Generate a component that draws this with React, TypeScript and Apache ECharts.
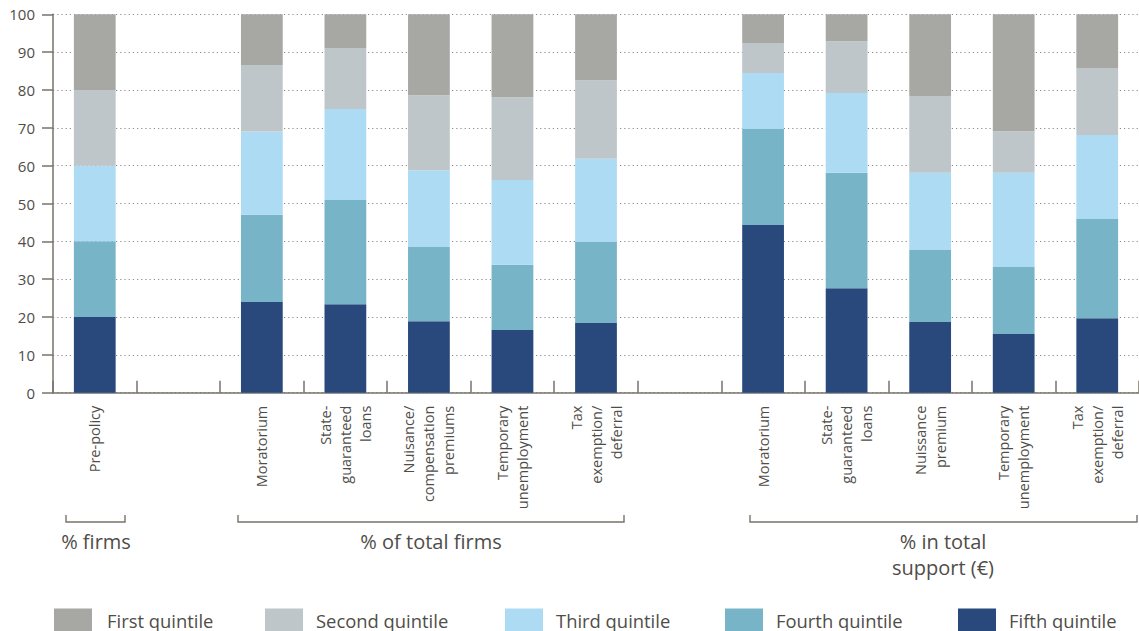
import React, { useEffect, useRef } from "react";
import * as echarts from "echarts";

// Category slots (empty strings are spacer slots between groups)
const categories = [
  "Pre-policy",
  "",
  "Moratorium",
  "State-\nguaranteed\nloans",
  "Nuisance/\ncompensation\npremiums",
  "Temporary\nunemployment",
  "Tax\nexemption/\ndeferral",
  "",
  "Moratorium",
  "State-\nguaranteed\nloans",
  "Nuissance\npremium",
  "Temporary\nunemployment",
  "Tax\nexemption/\ndeferral",
];

// Shares (%) by quintile, stacked from the bottom (fifth) to the top (first)
const fifthQuintile = [20, null, 24, 23.4, 18.9, 16.6, 18.4, null, 44.3, 27.6, 18.7, 15.5, 19.7];
const fourthQuintile = [20, null, 23, 27.5, 19.6, 17.2, 21.4, null, 25.4, 30.5, 19.0, 17.7, 26.2];
const thirdQuintile = [20, null, 22, 24.1, 20.3, 22.4, 22.0, null, 14.8, 21.1, 20.4, 24.9, 22.2];
const secondQuintile = [20, null, 17.6, 16.1, 19.8, 21.9, 20.8, null, 7.9, 13.7, 20.3, 11.0, 17.7];
const firstQuintile = [20, null, 13.4, 8.9, 21.4, 21.9, 17.4, null, 7.6, 7.1, 21.6, 30.9, 14.2];

const seriesNames = ["First quintile", "Second quintile", "Third quintile", "Fourth quintile", "Fifth quintile"];
const seriesColors = ["#a7a8a3", "#bfc6c9", "#addbf4", "#77b4c7", "#29497d"];
const yTicks = { min: 0, max: 100, interval: 10 };

const FONT = "'Open Sans', 'DejaVu Sans', sans-serif";
const TEXT = "#4f4d48";
const AXIS = "#77736a";

// Legend swatch and label positions along the bottom row
const legendSwatchX = [54, 265, 505, 725, 958];
const legendTextX = [107, 316, 556, 776, 1009];

export default function App() {
  const ref = useRef<HTMLDivElement>(null);

  useEffect(() => {
    if (!ref.current) return;
    const chart = echarts.init(ref.current, undefined, { renderer: "svg" });

    const stacked = [
      { name: seriesNames[4], data: fifthQuintile, color: seriesColors[4] },
      { name: seriesNames[3], data: fourthQuintile, color: seriesColors[3] },
      { name: seriesNames[2], data: thirdQuintile, color: seriesColors[2] },
      { name: seriesNames[1], data: secondQuintile, color: seriesColors[1] },
      { name: seriesNames[0], data: firstQuintile, color: seriesColors[0] },
    ];

    const bracket = (x1: number, x2: number) => ({
      type: "polyline",
      silent: true,
      shape: { points: [[x1, 515], [x1, 522], [x2, 522], [x2, 515]] },
      style: { stroke: AXIS, lineWidth: 1.4, fill: null },
    });
    const groupLabel = (x: number, y: number, text: string) => ({
      type: "text",
      silent: true,
      x,
      y,
      style: {
        text,
        fill: TEXT,
        font: `20px ${FONT}`,
        textAlign: "center",
        textVerticalAlign: "middle",
        lineHeight: 26,
      },
    });

    const legendItems: any[] = [];
    seriesNames.forEach((name, i) => {
      legendItems.push({
        type: "rect",
        silent: true,
        shape: { x: legendSwatchX[i], y: 608.5, width: 38, height: 22.5 },
        style: { fill: seriesColors[i] },
      });
      legendItems.push({
        type: "text",
        silent: true,
        x: legendTextX[i],
        y: 620,
        style: {
          text: name,
          fill: TEXT,
          font: `18.4px ${FONT}`,
          textAlign: "left",
          textVerticalAlign: "middle",
        },
      });
    });

    chart.setOption({
      animation: false,
      textStyle: { fontFamily: FONT },
      grid: { left: 53, right: -6, top: 14.3, bottom: 238.3, containLabel: false },
      xAxis: {
        type: "category",
        data: categories,
        axisLine: { lineStyle: { color: AXIS, width: 1.5 } },
        axisTick: { show: true, inside: true, length: 12, alignWithLabel: false, lineStyle: { color: AXIS, width: 1.5 } },
        axisLabel: {
          interval: 0,
          rotate: 90,
          margin: 13,
          fontSize: 14.5,
          lineHeight: 20,
          color: TEXT,
          fontFamily: FONT,
        },
      },
      yAxis: {
        type: "value",
        min: yTicks.min,
        max: yTicks.max,
        interval: yTicks.interval,
        axisLine: { show: true, lineStyle: { color: AXIS, width: 1.5 } },
        axisTick: { show: true, length: 11, lineStyle: { color: AXIS, width: 1.5 } },
        axisLabel: { margin: 18, fontSize: 15, color: TEXT, fontFamily: FONT },
        splitLine: { show: true, lineStyle: { color: "#8a8a8a", width: 1.2, type: [1.2, 3] } },
      },
      series: stacked.map((s) => ({
        name: s.name,
        type: "bar",
        stack: "total",
        barWidth: "50%",
        data: s.data,
        itemStyle: { color: s.color },
        emphasis: { disabled: true },
      })),
      graphic: [
        bracket(66, 125),
        bracket(238, 624),
        bracket(750, 1137),
        groupLabel(96, 541, "% firms"),
        groupLabel(431, 541, "% of total firms"),
        groupLabel(943, 554, "% in total\nsupport (€)"),
        ...legendItems,
      ],
    });

    return () => chart.dispose();
  }, []);

  return (
    <div
      ref={ref}
      style={{ position: "fixed", left: 0, top: 0, width: 1139, height: 631, background: "#fff" }}
    />
  );
}
